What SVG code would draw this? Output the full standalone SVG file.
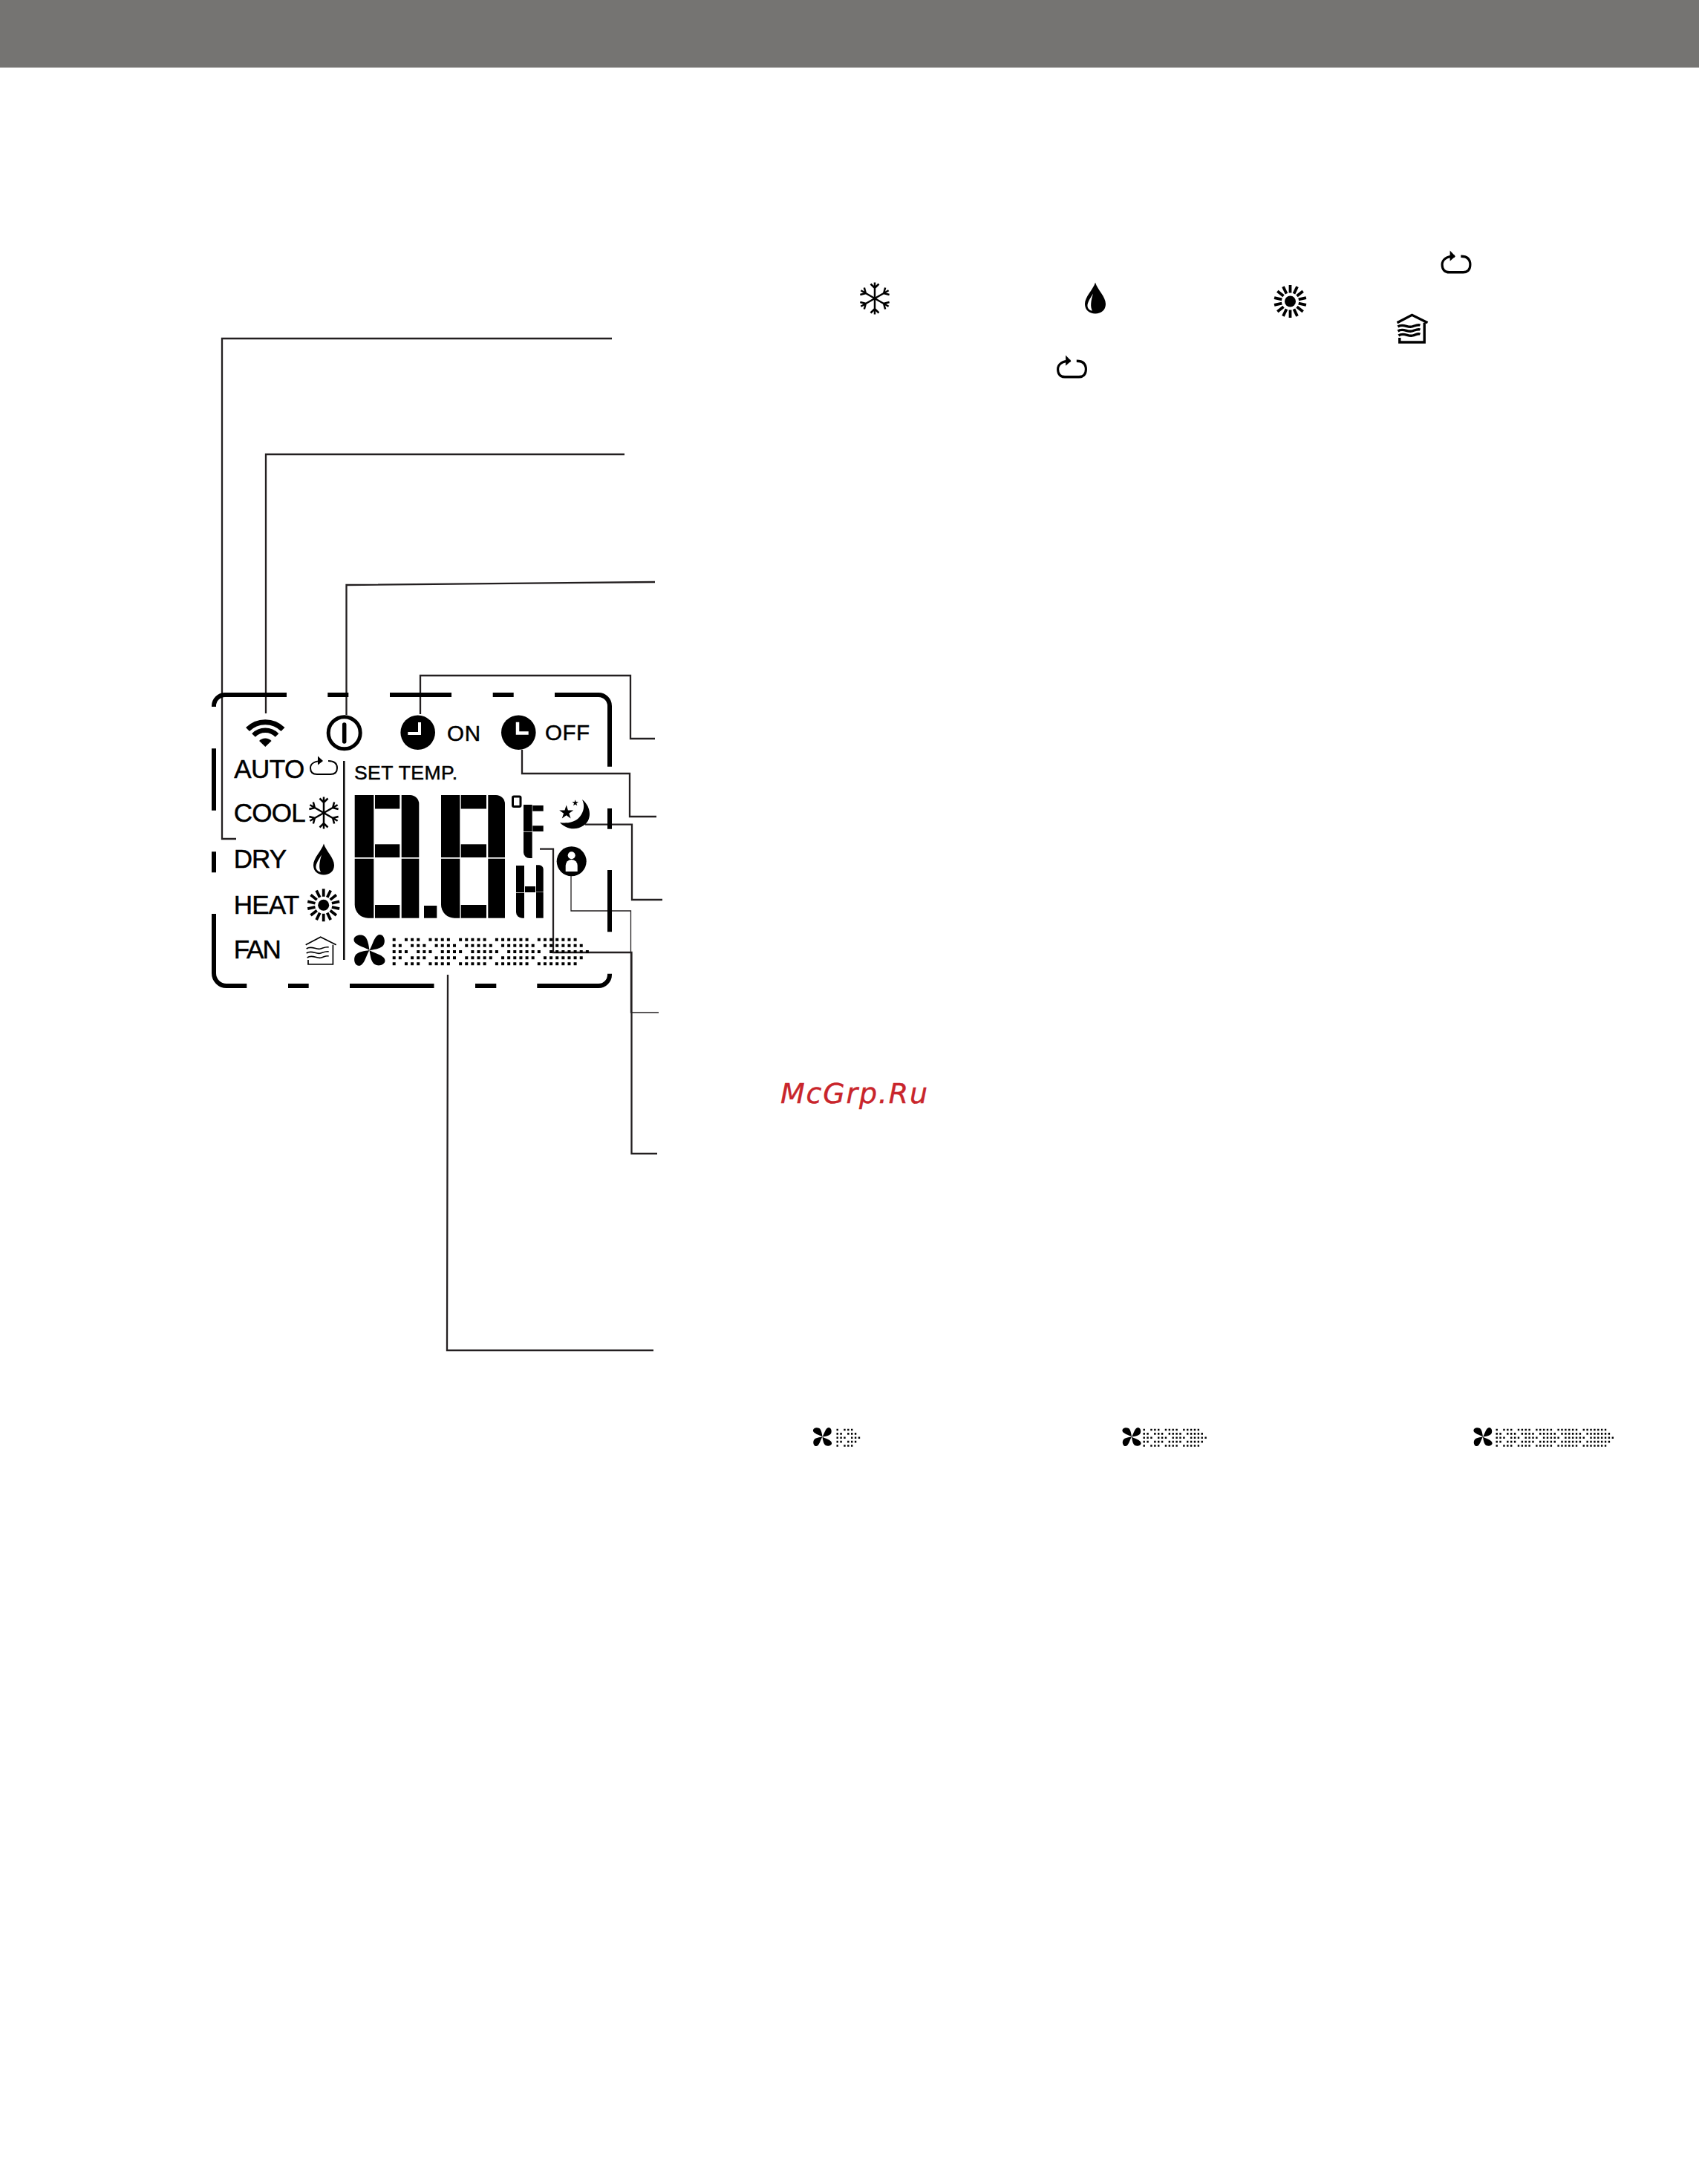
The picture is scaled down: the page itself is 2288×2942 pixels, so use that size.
<svg xmlns="http://www.w3.org/2000/svg" width="2288" height="2942" viewBox="0 0 2288 2942">
<style>
.c{fill:none;stroke:#231f20;stroke-width:2.3}
.t{fill:none;stroke:#231f20;stroke-width:1.3}
.f{fill:none;stroke:#000;stroke-width:6}
.l{font-family:"Liberation Sans",Arial,sans-serif;font-size:35px;fill:#000;stroke:#000;stroke-width:.5}
.s{font-size:26.500px;stroke-width:.5}
.o{font-size:29.500px;stroke-width:.5}
.k{fill:#000}
.d{fill:none;stroke:#000;stroke-width:4;stroke-dasharray:4 4.13}
</style>
<defs>
<g id="loop"><path fill="none" stroke="#000" d="M-2 -6.500C-12 -6.500 -18 -3 -18 3C-18 9 -14 11.500 -9 11.500H9C14 11.500 18 9 18 3C18 -3 14 -6.500 6 -6.500"/><path class="k" d="M-8 -13L-1 -6.500L-8 -1Z"/></g>
<g id="arm"><path fill="none" stroke="#000" stroke-width="2.500" d="M0 0V-21.500M-5.500 -19.500L0 -14L5.500 -19.500"/></g>
<g id="snow"><use href="#arm"/><use href="#arm" transform="rotate(60)"/><use href="#arm" transform="rotate(120)"/><use href="#arm" transform="rotate(180)"/><use href="#arm" transform="rotate(240)"/><use href="#arm" transform="rotate(300)"/></g>
<g id="drop"><path class="k" d="M0 -21C3 -11 14 -2 14 8C14 16 8 21 0 21C-8 21 -14 16 -14 8C-14 -2 -3 -11 0 -21Z"/><path fill="#fff" d="M-3 -6C-8 2 -12 8 -10 13C-9 15 -7 17 -4 17C-7 12 -6 4 -3 -6Z"/></g>
<line id="ray" x1="0" y1="-11.500" x2="0" y2="-22" stroke="#000" stroke-width="3.800"/>
<g id="sun"><circle class="k" r="7.500"/><use href="#ray"/><use href="#ray" transform="rotate(25.700)"/><use href="#ray" transform="rotate(51.400)"/><use href="#ray" transform="rotate(77.100)"/><use href="#ray" transform="rotate(102.900)"/><use href="#ray" transform="rotate(128.600)"/><use href="#ray" transform="rotate(154.300)"/><use href="#ray" transform="rotate(180)"/><use href="#ray" transform="rotate(205.700)"/><use href="#ray" transform="rotate(231.400)"/><use href="#ray" transform="rotate(257.100)"/><use href="#ray" transform="rotate(282.900)"/><use href="#ray" transform="rotate(308.600)"/><use href="#ray" transform="rotate(334.300)"/></g>
<path id="house" fill="none" stroke="#000" d="M-20 -8.300L0 -18.700L21 -8.300M16.700 -8.300V18H-16.700V12M-19 -3C-12 -8 -6 -1 0 -3S8 -6 11 -5M-19 3C-12 -2 -6 5 0 3S8 0 11 1M-18 9C-11 4 -5 11 1 9S8 6 11 7"/>
<path id="blade" class="k" d="M0 0C-6 -4 -21 -7 -21 -14C-21 -20 -12 -22 -7 -19C-2 -16 -1 -6 0 0Z"/>
<g id="fan"><use href="#blade"/><use href="#blade" transform="rotate(90)"/><use href="#blade" transform="rotate(180)"/><use href="#blade" transform="rotate(270)"/></g>
<path id="b1" class="d" d="M0 0H4M0 8.150H12.130M0 16.300H20.260M0 24.450H12.130M0 32.600H4"/>
<path id="b2" class="d" d="M16.260 0H36.520M24.390 8.150H44.650M32.520 16.300H52.780M24.390 24.450H44.650M16.260 32.600H36.520"/>
<path id="b3" class="d" d="M48.780 0H77.170M56.910 8.150H85.300M65.040 16.300H93.430M56.910 24.450H85.300M48.780 32.600H77.170"/>
<path id="b4" class="d" d="M89.430 0H125.950M97.560 8.150H134.080M105.690 16.300H142.210M97.560 24.450H134.080M89.430 32.600H125.950"/>
<path id="b5" class="d" d="M138.210 0H182.860M146.340 8.150H190.990M154.470 16.300H199.120M146.340 24.450H190.990M138.210 32.600H182.860"/>
<path id="b6" class="d" d="M195.120 0H247.900M203.250 8.150H256.030M211.380 16.300H264.160M203.250 24.450H256.030M195.120 32.600H247.900"/>
<g id="star"><polygon class="k" points="0,-1 .223,-.307 .951,-.309 .362,.118 .588,.809 0,.38 -.588,.809 -.362,.118 -.951,-.309 -.223,-.307"/></g>
</defs>
<rect id="header" x="0" y="0" width="2288" height="91" fill="#757472"/>
<g id="connectors">
<path class="c" d="M824 456H299V1130H318"/>
<path class="c" d="M841 612H358V961"/>
<path class="c" d="M882 784L466.500 788V963"/>
<path class="c" d="M566 962V910H849V995H882"/>
<path class="c" d="M703 1010V1042H848V1100H884"/>
<path class="c" d="M788 1110.700H851V1212H892"/>
<path class="t" d="M769 1180V1227H849.500V1364H887"/>
<path class="c" d="M727 1143.700H745V1283H850.500V1554H885"/>
<path class="c" d="M603 1313L602 1819H880"/>
</g>
<g id="display-frame">
<path class="f" d="M288 952V951A15 15 0 0 1 303 936H386M441.300 936H469.300M525 936H608M663.700 936H691.700M747 936H806A15 15 0 0 1 821 951V1032.700M821 1089V1116.700M821 1172V1255.300M821 1311.700V1313A15 15 0 0 1 806 1328H723.300M668.300 1328H640M584.500 1328H471M415.700 1328H388M332.300 1328H305A17 17 0 0 1 288 1311V1231M288 1175.300V1147.300M288 1091.700V1008.300"/>
<rect x="462" y="1025" width="2.600" height="268" fill="#111"/>
</g>
<g id="wifi-icon">
<path fill="none" stroke="#000" stroke-width="7" d="M333.500 982.500A33.500 33.500 0 0 1 381 982.500"/>
<path fill="none" stroke="#000" stroke-width="6.500" d="M341.500 990.500A22 22 0 0 1 373 990.500"/>
<path class="k" d="M357.300 1006L349 998A11.500 11.500 0 0 1 365.600 998Z"/>
</g>
<g id="power-icon">
<circle cx="463.700" cy="987.300" r="21.500" fill="none" stroke="#000" stroke-width="5"/>
<line x1="463.700" y1="976" x2="463.700" y2="999" stroke="#000" stroke-width="5.500" stroke-linecap="round"/>
</g>
<g id="timer-on">
<circle class="k" cx="562.700" cy="986.700" r="23.300"/>
<path fill="none" stroke="#fff" stroke-width="4" d="M565 973V988H549.300"/>
<text class="l o" x="602" y="998.300" textLength="45">ON</text>
</g>
<g id="timer-off">
<circle class="k" cx="698.300" cy="986.700" r="23.300"/>
<path fill="none" stroke="#fff" stroke-width="4.500" d="M697 972.700V987.500H711.700"/>
<text class="l o" x="734" y="997" textLength="60">OFF</text>
</g>
<g id="mode-auto">
<text class="l" x="315.200" y="1048" textLength="95">AUTO</text>
<use href="#loop" x="436" y="1031.500" stroke-width="2"/>
</g>
<g id="mode-cool">
<text class="l" x="314.700" y="1107" textLength="97">COOL</text>
<use href="#snow" x="436" y="1095"/>
</g>
<g id="mode-dry">
<text class="l" x="314.700" y="1168.700" textLength="71.500">DRY</text>
<use href="#drop" x="436" y="1157.500"/>
</g>
<g id="mode-heat">
<text class="l" x="314.700" y="1230.700" textLength="88.500">HEAT</text>
<use href="#sun" x="435.700" y="1219.300"/>
</g>
<g id="mode-fan">
<text class="l" x="314.700" y="1291.300" textLength="64">FAN</text>
<use href="#house" x="431.700" y="1281" stroke-width="1.700"/>
</g>
<g id="set-temp">
<text class="l s" x="477" y="1050" textLength="139">SET TEMP.</text>
</g>
<g id="temperature-digits" fill="#000">
<rect x="477.700" y="1071" width="25.600" height="84"/>
<rect x="505" y="1071" width="33.300" height="18.500"/>
<path d="M540.700 1071H552.300A12 12 0 0 1 564.300 1083V1155H540.700Z"/>
<rect x="505" y="1137.300" width="33.300" height="17.700"/>
<path d="M477.700 1156.700H503.300V1236.700H495.700A18 18 0 0 1 477.700 1218.700Z"/>
<rect x="505" y="1219" width="33.300" height="17.700"/>
<rect x="540.700" y="1156.700" width="23.600" height="80"/>
<rect x="571" y="1220" width="17.300" height="16.700"/>
<rect x="594" y="1071" width="25.300" height="84"/>
<rect x="620.700" y="1071" width="34.300" height="18.500"/>
<path d="M657.300 1071H668A12 12 0 0 1 680 1083V1155H657.300Z"/>
<rect x="620.700" y="1137.300" width="34.300" height="17.700"/>
<path d="M594 1156.700H619.300V1236.700H612A18 18 0 0 1 594 1218.700Z"/>
<rect x="620.700" y="1219" width="34.300" height="17.700"/>
<rect x="657.300" y="1156.700" width="22.700" height="80"/>
<rect x="690.500" y="1073" width="10.500" height="13.500" rx="1.500" fill="none" stroke="#000" stroke-width="3"/>
<rect x="705" y="1084" width="11.700" height="36"/>
<rect x="717.300" y="1085" width="14.400" height="7.700"/>
<rect x="717.300" y="1112.300" width="14.400" height="7.700"/>
<path d="M705 1120.700H716.700V1156H713A8 8 0 0 1 705 1148Z"/>
<rect x="695" y="1166" width="11" height="36"/>
<path d="M695 1202.700H706V1236.700H703A8 8 0 0 1 695 1228.700Z"/>
<rect x="707" y="1194" width="14" height="8"/>
<path d="M722 1165.300H726A5.700 5.700 0 0 1 731.700 1171V1201.300H722Z"/>
<rect x="722" y="1201.700" width="9.700" height="35"/>
</g>
<g id="sleep-icon">
<path class="k" d="M784 1077C797 1087 797 1105 786 1112C776 1119 762 1117 754 1108C768 1110 778 1106 783 1097C787 1090 787 1083 784 1077Z"/>
<use href="#star" transform="translate(762.700 1094.500) scale(10)"/>
<use href="#star" transform="translate(774.700 1081.700) scale(4.500)"/>
</g>
<g id="person-icon">
<circle class="k" cx="769.700" cy="1160.300" r="20"/>
<circle cx="769.700" cy="1152.300" r="5" fill="#fff"/>
<path fill="#fff" d="M761.700 1174V1166A8 8 0 0 1 777.700 1166V1174Z"/>
</g>
<g id="fan-speed-display">
<use href="#fan" x="497.500" y="1280"/>
<g transform="translate(528.700 1265.700)"><use href="#b1"/><use href="#b2"/><use href="#b3"/><use href="#b4"/><use href="#b5"/><use href="#b6"/></g>
</g>
<g id="text-icons">
<use href="#loop" transform="translate(1961 353) scale(1.050 1.200)" stroke-width="3"/>
<use href="#snow" x="1178" y="402"/>
<use href="#drop" x="1475" y="401.500"/>
<use href="#sun" x="1737.500" y="406"/>
<use href="#house" x="1901.500" y="443" stroke-width="3.400"/>
<use href="#loop" transform="translate(1443.500 494) scale(1.050 1.200)" stroke-width="3"/>
</g>
<g id="fan-low">
<use href="#fan" transform="translate(1107.500 1935.500) scale(.6)"/>
<g transform="translate(1126.500 1926) scale(.6 .66)"><use href="#b1"/><use href="#b2"/></g>
</g>
<g id="fan-medium">
<use href="#fan" transform="translate(1524 1935.500) scale(.6)"/>
<g transform="translate(1539.500 1926) scale(.6 .66)"><use href="#b1"/><use href="#b2"/><use href="#b3"/><use href="#b4"/></g>
</g>
<g id="fan-high">
<use href="#fan" transform="translate(1997 1935.500) scale(.6)"/>
<g transform="translate(2014.500 1926) scale(.6 .66)"><use href="#b1"/><use href="#b2"/><use href="#b3"/><use href="#b4"/><use href="#b5"/><use href="#b6"/></g>
</g>
<text id="watermark" x="1051" y="1486" font-family="'DejaVu Sans',sans-serif" font-style="oblique" font-size="38" fill="#c9252b" stroke="#c9252b" stroke-width=".4" textLength="198">McGrp.Ru</text>
</svg>
